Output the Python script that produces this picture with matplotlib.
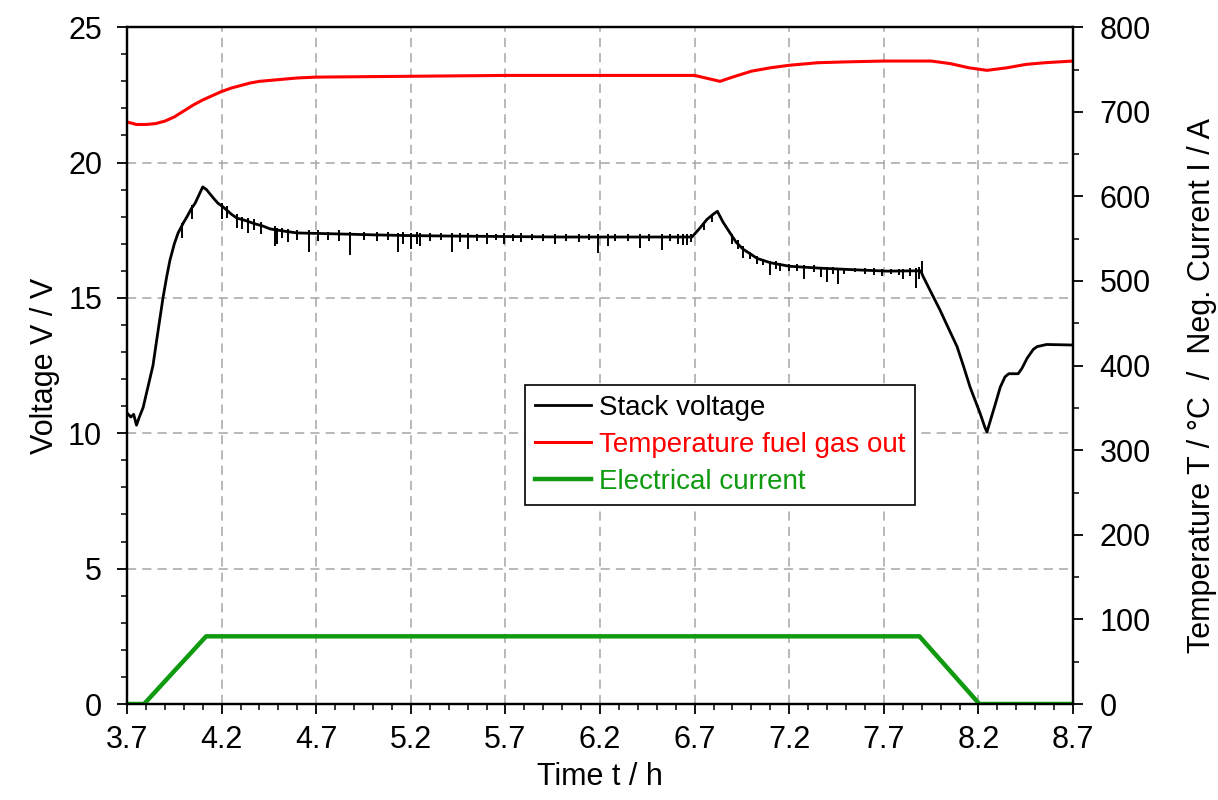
import numpy as np
import matplotlib.pyplot as plt
from matplotlib.ticker import MultipleLocator

plt.rcParams['font.family'] = ['Liberation Sans', 'DejaVu Sans']

# Stack voltage (V), slow course
volt_t = [3.70, 3.72, 3.735, 3.75, 3.765, 3.785, 3.80, 3.837, 3.86, 3.89, 3.91, 3.927,
          3.95, 3.97, 4.00, 4.017, 4.04, 4.06, 4.08, 4.10, 4.12, 4.155, 4.18, 4.21,
          4.25, 4.28, 4.33, 4.37, 4.42, 4.456, 4.50, 4.546, 4.60, 4.72, 4.895, 5.00,
          5.21, 5.50, 6.00, 6.30, 6.686, 6.73, 6.765, 6.80, 6.82, 6.85, 6.887, 6.92,
          6.956, 7.00, 7.03, 7.10, 7.20, 7.36, 7.575, 7.717, 7.855, 7.895, 7.907, 7.95,
          7.997, 8.04, 8.087, 8.12, 8.156, 8.208, 8.235, 8.245, 8.26, 8.29, 8.315, 8.34,
          8.36, 8.41, 8.43, 8.457, 8.49, 8.51, 8.56, 8.70]
volt_v = [10.75, 10.6, 10.7, 10.3, 10.6, 10.95, 11.4, 12.5, 13.6, 15.0, 15.8, 16.4,
          17.0, 17.4, 17.8, 18.0, 18.3, 18.5, 18.8, 19.1, 19.0, 18.7, 18.5, 18.35,
          18.1, 17.95, 17.85, 17.75, 17.65, 17.55, 17.5, 17.45, 17.4, 17.38, 17.35, 17.33,
          17.3, 17.28, 17.25, 17.25, 17.25, 17.6, 17.9, 18.1, 18.2, 17.8, 17.4, 17.05,
          16.8, 16.6, 16.46, 16.3, 16.17, 16.1, 16.03, 15.99, 16.0, 16.0, 15.8, 15.2,
          14.55, 13.9, 13.2, 12.5, 11.7, 10.75, 10.2, 10.05, 10.4, 11.1, 11.7, 12.08,
          12.2, 12.2, 12.4, 12.77, 13.1, 13.2, 13.28, 13.26]

# Stack voltage, short dips / noise
spike_t = [3.99, 4.045, 4.20, 4.23, 4.28, 4.31, 4.34, 4.37, 4.41, 4.48, 4.49, 4.52,
           4.55, 4.60, 4.66, 4.71, 4.76, 4.82, 4.88, 4.95, 5.02, 5.08, 5.13, 5.16,
           5.20, 5.23, 5.25, 5.30, 5.36, 5.42, 5.46, 5.50, 5.55, 5.60, 5.65, 5.69,
           5.74, 5.78, 5.84, 5.90, 5.96, 6.02, 6.09, 6.14, 6.19, 6.24, 6.28, 6.35,
           6.41, 6.46, 6.53, 6.57, 6.61, 6.64, 6.66, 6.68, 6.75, 6.79, 6.90, 6.93,
           6.956, 6.99, 7.03, 7.06, 7.10, 7.13, 7.15, 7.20, 7.24, 7.28, 7.33, 7.37,
           7.40, 7.43, 7.46, 7.49, 7.55, 7.60, 7.65, 7.69, 7.74, 7.78, 7.80, 7.84,
           7.87, 7.885, 7.90]
spike_lo = [17.2, 17.9, 17.9, 17.95, 17.6, 17.55, 17.4, 17.5, 17.35, 16.9, 17.0, 17.2,
            17.06, 17.15, 16.7, 17.1, 17.15, 17.1, 16.6, 17.15, 17.1, 17.15, 16.7, 17.0,
            16.8, 17.0, 16.9, 17.1, 17.15, 16.7, 17.05, 16.8, 17.1, 17.0, 17.15, 17.0,
            17.1, 17.05, 17.15, 17.1, 17.0, 17.12, 17.05, 17.15, 16.66, 16.9, 17.1, 17.1,
            16.85, 17.12, 16.76, 17.1, 17.0, 16.95, 16.95, 17.05, 17.5, 17.8, 17.0, 16.8,
            16.46, 16.45, 16.25, 16.2, 15.85, 16.05, 16.0, 16.0, 16.0, 15.7, 15.95, 15.77,
            15.6, 15.9, 15.5, 15.9, 15.95, 15.9, 15.85, 15.8, 15.9, 15.85, 15.7, 15.8,
            15.35, 15.7, 15.9]
spike_hi = [17.75, 18.45, 18.5, 18.4, 18.1, 18.0, 17.95, 17.9, 17.8, 17.65, 17.6, 17.6,
            17.55, 17.5, 17.5, 17.5, 17.45, 17.5, 17.45, 17.45, 17.45, 17.45, 17.4, 17.45,
            17.4, 17.45, 17.4, 17.4, 17.4, 17.4, 17.4, 17.4, 17.35, 17.4, 17.35, 17.4,
            17.35, 17.4, 17.35, 17.35, 17.35, 17.35, 17.35, 17.35, 17.35, 17.35, 17.35, 17.35,
            17.35, 17.35, 17.35, 17.35, 17.35, 17.35, 17.35, 17.35, 17.8, 18.1, 17.35, 17.15,
            16.9, 16.7, 16.55, 16.45, 16.35, 16.35, 16.3, 16.25, 16.25, 16.2, 16.2, 16.15,
            16.15, 16.15, 16.12, 16.12, 16.1, 16.1, 16.1, 16.08, 16.08, 16.08, 16.08, 16.1,
            16.1, 16.15, 16.35]

# Temperature fuel gas out (°C)
temp_t = [3.70, 3.75, 3.80, 3.85, 3.90, 3.95, 4.00, 4.05, 4.10, 4.15, 4.20, 4.25,
          4.30, 4.35, 4.40, 4.50, 4.60, 4.70, 5.20, 5.70, 6.20, 6.70, 6.834, 6.90,
          7.00, 7.10, 7.20, 7.35, 7.50, 7.70, 7.95, 8.05, 8.15, 8.245, 8.35, 8.45,
          8.55, 8.70]
temp_v = [688, 685, 685, 686, 689, 694, 701, 708, 714, 719, 724, 728,
          731, 734, 736, 738, 740, 741, 742, 743, 743, 743, 736, 741,
          748, 752, 755, 758, 759, 760, 760, 757, 752, 749, 752, 756,
          758, 760]

# Electrical current (A)
curr_t = [3.70, 3.79, 4.118, 7.888, 8.205, 8.70]
curr_v = [0, 0, 80, 80, 0, 0]

fig = plt.figure(figsize=(12.18, 8), dpi=100)
ax = fig.add_axes([0.1043, 0.12, 0.7767, 0.846])
ax2 = ax.twinx()

ax.vlines(spike_t, spike_lo, spike_hi, color='black', lw=1.4)
l1, = ax.plot(volt_t, volt_v, color='black', lw=2.0, label='Stack voltage')
l2, = ax2.plot(temp_t, temp_v, color='#ff0000', lw=2.2, label='Temperature fuel gas out')
l3, = ax2.plot(curr_t, curr_v, color='#109a10', lw=3.2, label='Electrical current')

ax.set_xlim(3.7, 8.7)
ax.set_ylim(0, 25)
ax2.set_ylim(0, 800)
ax.set_xticks(np.arange(3.7, 8.71, 0.5))
ax.set_xticklabels(['3.7', '4.2', '4.7', '5.2', '5.7', '6.2', '6.7', '7.2', '7.7', '8.2', '8.7'])
ax.xaxis.set_minor_locator(MultipleLocator(0.1))
ax.yaxis.set_major_locator(MultipleLocator(5))
ax.yaxis.set_minor_locator(MultipleLocator(1))
ax2.yaxis.set_major_locator(MultipleLocator(100))
ax2.yaxis.set_minor_locator(MultipleLocator(50))

ax.grid(True, which='major', color='#a6a6a6', ls=(0, (6, 4)), lw=1.1)
ax.set_axisbelow(True)

for a in (ax, ax2):
    for s in a.spines.values():
        s.set_linewidth(1.6)
    a.tick_params(which='major', direction='out', length=7, width=1.3, labelsize=22)
    a.tick_params(which='minor', direction='out', length=4.5, width=1.1)
ax.tick_params(axis='y', pad=11)
ax.tick_params(axis='x', pad=8)
ax2.tick_params(axis='y', pad=12)

ax.set_xlabel('Time t / h', fontsize=22, labelpad=5)
ax.set_ylabel('Voltage V / V', fontsize=22, labelpad=6)
ax2.set_ylabel('Temperature T / °C  /  Neg. Current I / A', fontsize=22)
ax2.yaxis.set_label_coords(1.12, 0.47)

leg = ax2.legend(handles=[l1, l2, l3], loc='upper left', bbox_to_anchor=(0.421, 0.471),
                 borderaxespad=0, fontsize=20, labelcolor='linecolor', fancybox=False,
                 framealpha=1, edgecolor='black', handlelength=2.0, handletextpad=0.3,
                 borderpad=0.35, labelspacing=0.4)
leg.get_frame().set_linewidth(1.2)

fig.savefig('out.png', dpi=100)
